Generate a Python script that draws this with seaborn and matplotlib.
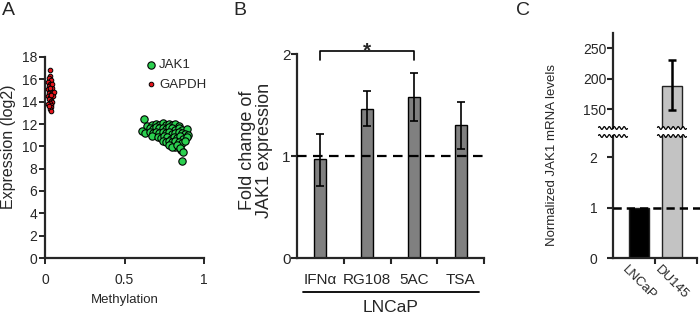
import numpy as np
import pandas as pd
import seaborn as sns
import matplotlib
matplotlib.use('Agg')
import matplotlib.pyplot as plt
from matplotlib import font_manager as fm

# Panel A - methylation vs expression
jak1_meth = [0.62, 0.64, 0.61, 0.63, 0.86, 0.855, 0.84, 0.82,
             0.67, 0.70, 0.72, 0.74, 0.76, 0.78, 0.80, 0.82, 0.84,
             0.66, 0.68, 0.70, 0.72, 0.74, 0.76, 0.78, 0.80, 0.82, 0.84, 0.86, 0.89,
             0.66, 0.68, 0.70, 0.72, 0.74, 0.76, 0.78, 0.80, 0.82, 0.84, 0.86, 0.88, 0.90,
             0.67, 0.71, 0.73, 0.75, 0.77, 0.79, 0.81, 0.83, 0.85, 0.87, 0.89,
             0.74, 0.76, 0.78, 0.80, 0.82, 0.84, 0.86, 0.88,
             0.78, 0.80, 0.83, 0.85, 0.87]
jak1_expr = [12.45, 11.85, 11.4, 11.2, 8.7, 9.7, 10.05, 9.9,
             11.9, 12.0, 11.95, 12.05, 11.95, 12.0, 11.9, 12.0, 11.85,
             11.6, 11.55, 11.7, 11.6, 11.65, 11.55, 11.7, 11.6, 11.5, 11.6, 11.45, 11.55,
             11.25, 11.2, 11.3, 11.15, 11.3, 11.2, 11.25, 11.1, 11.2, 11.3, 11.15, 11.1, 11.0,
             10.9, 10.85, 10.75, 10.9, 10.8, 10.7, 10.85, 10.75, 10.9, 10.7, 10.8,
             10.5, 10.4, 10.5, 10.35, 10.45, 10.4, 10.3, 10.45,
             10.1, 9.95, 10.15, 9.85, 9.45]
gapdh_meth = [0.03, 0.03, 0.025, 0.035, 0.02, 0.03, 0.04, 0.025, 0.035, 0.045,
              0.02, 0.03, 0.04, 0.05, 0.025, 0.035, 0.045, 0.02, 0.03, 0.04,
              0.05, 0.025, 0.035, 0.045, 0.03, 0.02, 0.04, 0.035, 0.03, 0.04,
              0.055, 0.045, 0.03, 0.04, 0.025]
gapdh_expr = [16.8, 16.3, 16.1, 15.9, 15.8, 15.6, 15.5, 15.4, 15.3, 15.2,
              15.1, 15.0, 14.9, 14.8, 14.8, 14.7, 14.6, 14.5, 14.4, 14.3,
              14.5, 14.2, 14.1, 14.0, 13.9, 13.8, 13.7, 13.5, 13.3, 13.2,
              14.9, 15.6, 15.2, 14.6, 13.6]

# Panel B - fold change of JAK1 expression in LNCaP
b_treat = ['IFNα', 'RG108', '5AC', 'TSA']
b_fold = [0.97, 1.46, 1.58, 1.30]
b_err_lo = [0.26, 0.17, 0.24, 0.23]
b_err_hi = [0.25, 0.18, 0.23, 0.23]

# Panel C - normalized JAK1 mRNA levels
c_lines = ['LNCaP', 'DU145']
c_levels = [1, 188]
c_err_lo = [0, 39]
c_err_hi = [0, 42]

sns.set_style('ticks')
plt.rcParams['font.family'] = ['Liberation Sans', 'DejaVu Sans']
names = {f.name for f in fm.fontManager.ttflist}
narrow = 'Liberation Sans Narrow' if 'Liberation Sans Narrow' in names else 'Liberation Sans'

W, H = 700, 328
def box(l, t, r, b):
    return [l / W, 1 - b / H, (r - l) / W, (b - t) / H]

fig = plt.figure(figsize=(7, 3.28), dpi=100)
axA = fig.add_axes(box(45, 57, 204, 258))
axB = fig.add_axes(box(297, 54, 484, 258))
axCt = fig.add_axes(box(613, 33, 697, 128))
axCb = fig.add_axes(box(613, 136, 697, 258))

# ---- A
sns.scatterplot(x=jak1_meth, y=jak1_expr, ax=axA, color='#2bd04f', edgecolor='black',
                linewidth=0.8, s=28, label='JAK1', zorder=3)
sns.scatterplot(x=gapdh_meth, y=gapdh_expr, ax=axA, color='#e8141c', edgecolor='black',
                linewidth=0.7, s=11, label='GAPDH', zorder=4)
axA.set_xlim(0, 1)
axA.set_ylim(0, 18)
axA.set_xticks([0, 0.5, 1], ['0', '0.5', '1'])
axA.set_yticks(range(0, 19, 2))
sns.despine(ax=axA)
for s in ['left', 'bottom']:
    axA.spines[s].set_linewidth(1.6)
axA.tick_params(width=1.4, length=4, labelsize=10)
axA.tick_params(axis='x', pad=7)
axA.tick_params(axis='y', pad=1.5)
axA.set_xlabel('Methylation', fontsize=9.5, family=narrow, labelpad=5)
axA.set_ylabel('')
fig.text(9 / W, 1 - 147 / H, 'Expression (log2)', rotation=90, ha='center', va='center', fontsize=11.5)
axA.legend(loc='upper left', bbox_to_anchor=(0.64, 0.99), frameon=False, fontsize=9.5,
           handlelength=0.6, handletextpad=0.35, labelspacing=0.55, borderaxespad=0, borderpad=0)

# ---- B
df_b = pd.DataFrame({'treatment': b_treat, 'fold': b_fold})
sns.barplot(data=df_b, x='treatment', y='fold', ax=axB, color='#808080', edgecolor='black',
            linewidth=1, width=0.26, errorbar=None, saturation=1)
axB.errorbar(range(len(b_treat)), b_fold, yerr=[b_err_lo, b_err_hi], fmt='none', ecolor='black',
             elinewidth=1.2, capsize=3, capthick=1.2, zorder=4)
axB.axhline(1, color='black', lw=1.6, ls=(0, (4.3, 2.9)), zorder=5)
axB.set_xlim(-0.5, 3.5)
axB.set_ylim(0, 2)
axB.set_yticks([0, 1, 2])
axB.set_xticks([0.5, 1.5, 2.5, 3.5], ['', '', '', ''])
axB.set_xticks(range(len(b_treat)), b_treat, minor=True)
axB.set_xlabel('')
axB.set_ylabel('')
sns.despine(ax=axB)
for s in ['left', 'bottom']:
    axB.spines[s].set_linewidth(1.6)
axB.tick_params(axis='x', which='major', length=4, width=1.5)
axB.tick_params(axis='x', which='minor', length=0, pad=11, labelsize=11)
axB.tick_params(axis='y', length=4, width=1.5, pad=0.5, labelsize=11)
for t in axB.get_xticklabels(minor=True):
    t.set_family(narrow)
axB.plot([0, 0, 2, 2], [1.94, 2.03, 2.03, 1.94], color='black', lw=1.2, clip_on=False)
axB.text(1, 1.975, '*', ha='center', va='baseline', fontsize=15, fontweight='bold')
axB.plot([-0.37, 3.39], [-0.167, -0.167], transform=axB.get_xaxis_transform(), clip_on=False,
         color='black', lw=1.3)
axB.text(1.5, -0.245, 'LNCaP', transform=axB.get_xaxis_transform(), ha='center', va='center',
         fontsize=12.5, family=narrow)
fig.text(256 / W, 1 - 150 / H, 'Fold change of\nJAK1 expression', rotation=90, ha='center',
         va='center', fontsize=13, linespacing=1.05)

# ---- C (broken axis)
df_c = pd.DataFrame({'line': c_lines, 'level': c_levels})
for ax in (axCt, axCb):
    sns.barplot(data=df_c, x='line', y='level', hue='line', palette=['black', '#c3c3c3'],
                edgecolor='#222222', linewidth=1, width=0.6, ax=ax, legend=False,
                errorbar=None, saturation=1)
    ax.set_xlim(-0.79, 1.76)
    ax.set_xlabel('')
    ax.set_ylabel('')
axCt.errorbar(range(len(c_lines)), c_levels, yerr=[c_err_lo, c_err_hi], fmt='none', ecolor='black',
              elinewidth=1.8, capsize=3, capthick=1.8, zorder=4)
axCt.set_ylim(119, 275)
axCt.set_yticks([150, 200, 250])
axCt.set_xticks([])
for s in ['top', 'right', 'bottom']:
    axCt.spines[s].set_visible(False)
axCt.spines['left'].set_linewidth(1.6)
axCt.tick_params(axis='y', length=4.3, width=1.5, pad=0.5, labelsize=10)

axCb.set_ylim(0, 2.42)
axCb.set_yticks([0, 1, 2])
axCb.set_xticks([0.47, 1.76], ['', ''])
axCb.set_xticks(range(len(c_lines)), c_lines, minor=True)
sns.despine(ax=axCb)
for s in ['left', 'bottom']:
    axCb.spines[s].set_linewidth(1.6)
axCb.tick_params(axis='y', length=4.3, width=1.5, pad=7, labelsize=10)
axCb.tick_params(axis='x', which='major', length=4, width=1.5)
axCb.tick_params(axis='x', which='minor', length=0, pad=4, labelsize=9.5)
plt.setp(axCb.get_xticklabels(minor=True), rotation=-45, ha='center')
axCb.plot([-0.79, 1.85], [1, 1], color='black', lw=1.8, ls=(0, (3.3, 2)), clip_on=False, zorder=5)

def squiggle(ax, xc, yax, h_px):
    xs = np.linspace(xc - 0.44, xc + 0.44, 80)
    ys = yax + (1.4 / h_px) * np.sin((xs - xc) / 0.15 * 2 * np.pi)
    ax.plot(xs, ys, transform=ax.get_xaxis_transform(), color='black', lw=0.9, clip_on=False, zorder=6)

for xc in (-0.79, 1):
    squiggle(axCt, xc, 0, 95)
    squiggle(axCb, xc, 1, 122)

fig.text(552 / W, 1 - 155 / H, 'Normalized JAK1 mRNA levels', rotation=90, ha='center',
         va='center', fontsize=9.5, family=narrow)

fig.text(2 / W, 1 - 2 / H, 'A', fontsize=14, ha='left', va='top')
fig.text(233 / W, 1 - 2 / H, 'B', fontsize=14, ha='left', va='top')
fig.text(516 / W, 1 - 2 / H, 'C', fontsize=14, ha='left', va='top')

fig.savefig('out.png', dpi=100)
